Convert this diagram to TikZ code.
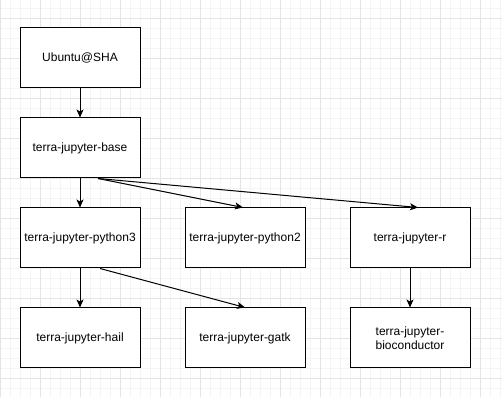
\documentclass[tikz,border=0pt]{standalone}
\usepackage{fontspec}
\setmainfont{Liberation Sans}
\usetikzlibrary{arrows.meta}
\definecolor{gridminor}{HTML}{F4F4F4}
\definecolor{gridmajor}{HTML}{E4E4E4}
\tikzset{
  box/.style={draw, line width=1pt, fill=white, minimum width=120pt, minimum height=60pt,
    inner sep=0pt, align=center, font=\fontsize{12}{14}\selectfont},
  dep/.style={line width=1pt, -{Stealth[length=8pt,width=7pt,inset=2pt]}}
}
\begin{document}
\begin{tikzpicture}[x=1pt,y=1pt]
\useasboundingbox (0,0) rectangle (502,406);
\fill[white] (0,0) rectangle (502,406);
\draw[gridminor, line width=.8pt, shift={(0,8)}, step=10] (0,1) grid (502,398);
\draw[gridmajor, line width=.8pt, shift={(0,28)}, step=40] (0,-19) grid (502,378);
\node[box] (ubuntu) at (80,348) {Ubuntu@SHA};
\node[box] (base) at (80,258) {terra-jupyter-base};
\node[box] (python3) at (80,168) {terra-jupyter-python3};
\node[box] (python2) at (245,168) {terra-jupyter-python2};
\node[box] (r) at (410,168) {terra-jupyter-r};
\node[box] (hail) at (80,68) {terra-jupyter-hail};
\node[box] (gatk) at (245,68) {terra-jupyter-gatk};
\node[box] (bioc) at (410,68) {terra-jupyter-\\bioconductor};
\draw[dep] (ubuntu) -- (base);
\draw[dep] (base) -- (python3);
\draw[dep] ([xshift=18pt]base.south) -- ([xshift=-2pt]python2.north);
\draw[dep] ([xshift=18pt]base.south) -- ([xshift=8pt]r.north);
\draw[dep] (python3) -- (hail);
\draw[dep] ([xshift=20pt]python3.south) -- (gatk.north);
\draw[dep] (r) -- (bioc);
\end{tikzpicture}
\end{document}
